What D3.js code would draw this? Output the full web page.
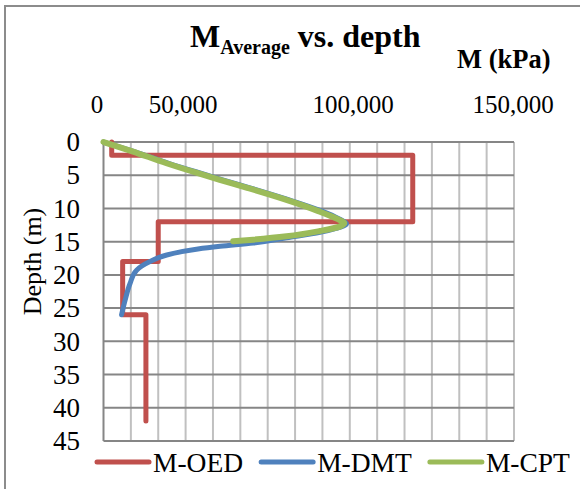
<!DOCTYPE html>
<html>
<head>
<meta charset="utf-8">
<script src="https://cdn.jsdelivr.net/npm/d3@7"></script>
<style>
  html, body { margin: 0; padding: 0; background: #fff; }
  svg { display: block; font-family: "Liberation Serif", "Times New Roman", serif; }
</style>
</head>
<body>
<svg id="chart" width="580" height="489"></svg>
<script>
// ---- data ----
const seriesNames = ['M-OED', 'M-DMT', 'M-CPT'];
const seriesColors = ['#c0504d', '#4f81bd', '#9bbb59'];

const xTicks = [0, 50000, 100000, 150000];
const yTicks = [0, 5, 10, 15, 20, 25, 30, 35, 40, 45];

// M-OED, step profile
const oedDepth = [0, 2, 2, 12, 12, 18, 18, 26, 26, 42];
const oedM = [3000, 3000, 113000, 113000, 20000, 20000, 7000, 7000, 15500, 15500];

// M-DMT
const dmtDepth = [0, 1.4, 3.2, 4.7, 5.7, 6.9, 8.6, 10.4, 11.5, 12.3, 13.0, 13.6, 14.4, 15.2, 15.7, 16.1, 17.0, 18.0, 19.3, 21.3, 23.8, 26.0];
const dmtM = [0, 11000, 23800, 35500, 43500, 53500, 67000, 79800, 85800, 88800, 85000, 79100, 66900, 54700, 42600, 34500, 23100, 17000, 12100, 9700, 7900, 6600];

// M-CPT
const cptDepth = [0, 1.4, 3.2, 4.7, 5.7, 6.9, 8.6, 10.4, 11.5, 12.2, 12.7, 13.4, 14.2, 14.7, 14.95];
const cptM = [0, 10500, 23000, 34500, 42500, 52500, 66000, 78500, 85000, 88000, 86500, 79100, 66900, 54700, 47400];

// ---- layout ----
const svg = d3.select('#chart');
const plot = { left: 103.5, top: 142, right: 514, bottom: 441 };

const x = d3.scaleLinear().domain([0, 150000]).range([plot.left, plot.right]);
const y = d3.scaleLinear().domain([0, 45]).range([plot.top, plot.bottom]);
// Excel placed the top value labels unevenly
const xLabel = d3.scaleLinear().domain(xTicks).range([97, 183, 353, 513]);
const fmt = d3.format(',d');

// outer chart border
svg.append('rect')
    .attr('x', 5).attr('y', 6)
    .attr('width', 600).attr('height', 520)
    .attr('fill', 'none')
    .attr('stroke', '#8c8c8c')
    .attr('stroke-width', 2);

// vertical grid (minor, every 10,000)
svg.append('g')
    .selectAll('line')
    .data(d3.range(0, 150001, 10000))
    .join('line')
    .attr('x1', d => x(d)).attr('x2', d => x(d))
    .attr('y1', plot.top).attr('y2', plot.bottom)
    .attr('stroke', d => d === 0 ? '#868686' : '#c0c0c0')
    .attr('stroke-width', 2);

// horizontal grid
svg.append('g')
    .selectAll('line')
    .data(yTicks)
    .join('line')
    .attr('x1', plot.left).attr('x2', plot.right)
    .attr('y1', d => y(d)).attr('y2', d => y(d))
    .attr('stroke', '#868686')
    .attr('stroke-width', 2);

// series
const line = d3.line().x(d => x(d[1])).y(d => y(d[0]));
const smooth = d3.line().x(d => x(d[1])).y(d => y(d[0])).curve(d3.curveMonotoneY);

const series = [
  { pts: d3.zip(oedDepth, oedM), gen: line, width: 5 },
  { pts: d3.zip(dmtDepth, dmtM), gen: smooth, width: 5 },
  { pts: d3.zip(cptDepth, cptM), gen: smooth, width: 6 }
];

series.forEach((s, i) => {
  svg.append('path')
      .attr('d', s.gen(s.pts))
      .attr('fill', 'none')
      .attr('stroke', seriesColors[i])
      .attr('stroke-width', s.width)
      .attr('stroke-linejoin', 'round')
      .attr('stroke-linecap', 'round');
});

// x labels (top)
svg.append('g')
    .selectAll('text')
    .data(xTicks)
    .join('text')
    .attr('x', d => xLabel(d))
    .attr('y', 113)
    .attr('text-anchor', 'middle')
    .attr('font-size', 25)
    .text(d => fmt(d));

// y labels
svg.append('g')
    .selectAll('text')
    .data(yTicks)
    .join('text')
    .attr('x', 80)
    .attr('y', d => y(d))
    .attr('dy', '0.34em')
    .attr('text-anchor', 'end')
    .attr('font-size', 27)
    .text(d => d);

// y title
svg.append('text')
    .attr('transform', `translate(41,${(plot.top + plot.bottom) / 2 - 30}) rotate(-90)`)
    .attr('text-anchor', 'middle')
    .attr('font-size', 26)
    .text('Depth (m)');

// chart title
const title = svg.append('text')
    .attr('x', 190).attr('y', 47)
    .attr('font-weight', 'bold')
    .attr('font-size', 32);
title.append('tspan').text('M');
title.append('tspan').attr('font-size', 20).attr('dy', 7).text('Average');
title.append('tspan').attr('dy', -7).text(' vs. depth');

// x axis title
svg.append('text')
    .attr('x', 457).attr('y', 68)
    .attr('font-weight', 'bold')
    .attr('font-size', 26.5)
    .text('M (kPa)');

// legend
const legend = svg.append('g').attr('transform', 'translate(97,462)');
let lx = 0;
seriesNames.forEach((name, i) => {
  legend.append('line')
      .attr('x1', lx).attr('x2', lx + 52)
      .attr('y1', 0).attr('y2', 0)
      .attr('stroke', seriesColors[i])
      .attr('stroke-width', 5)
      .attr('stroke-linecap', 'round');
  const t = legend.append('text')
      .attr('x', lx + 56).attr('y', 10)
      .attr('font-size', 27.5)
      .text(name);
  lx += 56 + t.node().getComputedTextLength() + 18;
});
</script>
</body>
</html>
